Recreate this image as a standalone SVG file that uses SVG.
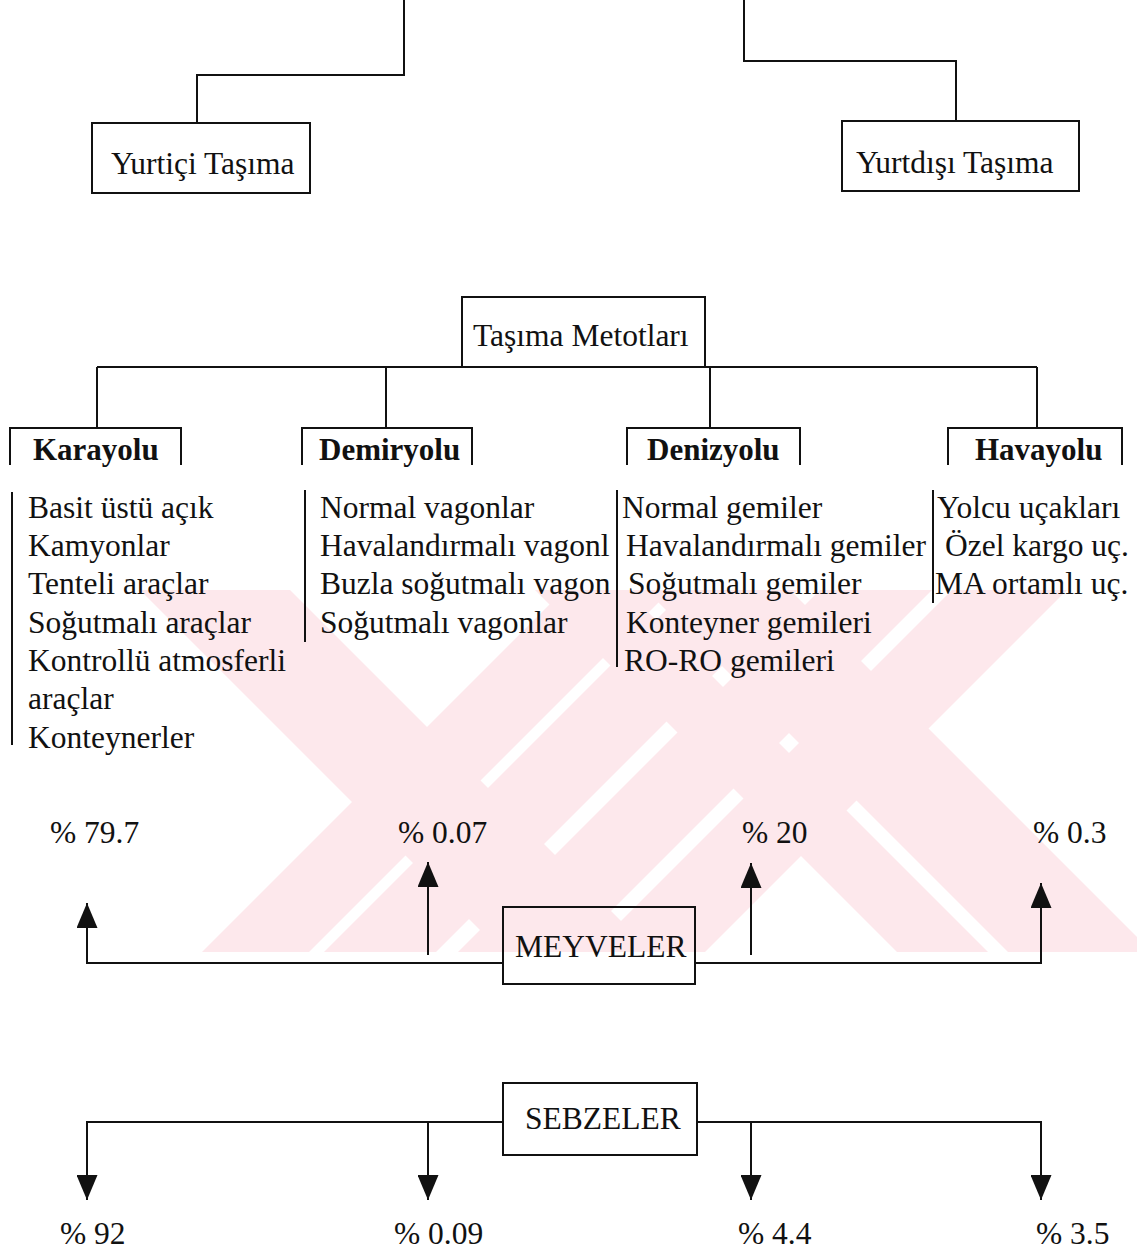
<svg xmlns="http://www.w3.org/2000/svg" width="1137" height="1251" viewBox="0 0 1137 1251">
<style>
  .ln { fill: none; stroke: #111; stroke-width: 2; }
  .bx { fill: none; stroke: #111; stroke-width: 2; }
  .t { font-family: "Liberation Serif", "Times New Roman", serif; font-size: 31.5px; fill: #111; }
  .b { font-family: "Liberation Serif", "Times New Roman", serif; font-size: 31px; font-weight: bold; fill: #111; }
  .wm { fill: #fde8ec; }
</style>
<defs>
  <marker id="arr" markerUnits="userSpaceOnUse" markerWidth="25" markerHeight="21" viewBox="0 0 25 21" refX="25" refY="10.5" orient="auto">
    <path d="M0,0 L25,10.5 L0,21 Z" fill="#111"/>
  </marker>
  <clipPath id="wmclip"><rect x="140" y="590" width="997" height="362"/></clipPath>
</defs>
<rect width="1137" height="1251" fill="#fff"/>
<g id="watermark" clip-path="url(#wmclip)">
  <polygon class="wm" points="140,590 290,590 652,952 502,952"/>
  <polygon class="wm" points="564,590 671,590 309,952 202,952"/>
  <polygon class="wm" points="686,590 798,590 436,952 324,952"/>
  <polygon class="wm" points="820,590 932,590 570,952 458,952"/>
  <polygon class="wm" points="952,590 1067,590 705,952 590,952"/>
  <polygon class="wm" points="535,590 626,590 988,952 897,952"/>
  <polygon class="wm" points="646,590 790,590 1152,952 1008,952"/>
</g>
<g id="connectors">
  <path class="ln" d="M404,0 V75 H197 V123"/>
  <path class="ln" d="M744,0 V61 H956 V121"/>
  <path class="ln" d="M97,367 H1037"/>
  <path class="ln" d="M97,367 V428"/>
  <path class="ln" d="M386,367 V428"/>
  <path class="ln" d="M710,367 V428"/>
  <path class="ln" d="M1037,367 V428"/>
  <path class="ln" d="M503,963 H87 V903" marker-end="url(#arr)"/>
  <path class="ln" d="M428,955 V862" marker-end="url(#arr)"/>
  <path class="ln" d="M751,955 V863" marker-end="url(#arr)"/>
  <path class="ln" d="M695,963 H1041 V883" marker-end="url(#arr)"/>
  <path class="ln" d="M503,1122 H87 V1200" marker-end="url(#arr)"/>
  <path class="ln" d="M428,1122 V1200" marker-end="url(#arr)"/>
  <path class="ln" d="M751,1122 V1200" marker-end="url(#arr)"/>
  <path class="ln" d="M697,1122 H1041 V1200" marker-end="url(#arr)"/>
</g>
<g id="yurtici">
  <rect class="bx" x="92" y="123" width="218" height="70"/>
  <text class="t" x="111" y="174">Yurtiçi Taşıma</text>
</g>
<g id="yurtdisi">
  <rect class="bx" x="842" y="121" width="237" height="70"/>
  <text class="t" x="856" y="173">Yurtdışı Taşıma</text>
</g>
<g id="tasima-metotlari">
  <rect class="bx" x="462" y="297" width="243" height="70"/>
  <text class="t" x="473" y="346">Taşıma Metotları</text>
</g>
<g id="karayolu">
  <path class="bx" d="M10,465 V428 H181 V465"/>
  <text class="b" x="33" y="460">Karayolu</text>
  <path class="ln" d="M12,492 V745"/>
  <text class="t" x="28" y="518">Basit üstü açık</text>
  <text class="t" x="28" y="556">Kamyonlar</text>
  <text class="t" x="28" y="594">Tenteli araçlar</text>
  <text class="t" x="28" y="633">Soğutmalı araçlar</text>
  <text class="t" x="28" y="671">Kontrollü atmosferli</text>
  <text class="t" x="28" y="709">araçlar</text>
  <text class="t" x="28" y="748">Konteynerler</text>
</g>
<g id="demiryolu">
  <path class="bx" d="M302,465 V428 H472 V465"/>
  <text class="b" x="319" y="460">Demiryolu</text>
  <path class="ln" d="M305,490 V642"/>
  <text class="t" x="320" y="518">Normal vagonlar</text>
  <text class="t" x="320" y="556">Havalandırmalı vagonl</text>
  <text class="t" x="320" y="594">Buzla soğutmalı vagon</text>
  <text class="t" x="320" y="633">Soğutmalı vagonlar</text>
</g>
<g id="denizyolu">
  <path class="bx" d="M627,465 V428 H800 V465"/>
  <text class="b" x="647" y="460">Denizyolu</text>
  <path class="ln" d="M617,490 V667"/>
  <text class="t" x="622" y="518">Normal gemiler</text>
  <text class="t" x="626" y="556">Havalandırmalı gemiler</text>
  <text class="t" x="628" y="594">Soğutmalı gemiler</text>
  <text class="t" x="626" y="633">Konteyner gemileri</text>
  <text class="t" x="624" y="671">RO-RO gemileri</text>
</g>
<g id="havayolu">
  <path class="bx" d="M948,465 V428 H1122 V465"/>
  <text class="b" x="975" y="460">Havayolu</text>
  <path class="ln" d="M933,490 V603"/>
  <text class="t" x="937" y="518">Yolcu uçakları</text>
  <text class="t" x="945" y="556">Özel kargo uç.</text>
  <text class="t" x="935" y="594">MA ortamlı uç.</text>
</g>
<g id="meyve-yuzdeler">
  <text class="t" x="50" y="843">% 79.7</text>
  <text class="t" x="398" y="843">% 0.07</text>
  <text class="t" x="742" y="843">% 20</text>
  <text class="t" x="1033" y="843">% 0.3</text>
</g>
<g id="meyveler">
  <rect class="bx" x="503" y="907" width="192" height="77"/>
  <text class="t" x="515" y="957">MEYVELER</text>
</g>
<g id="sebzeler">
  <rect class="bx" x="503" y="1083" width="194" height="72"/>
  <text class="t" x="525" y="1129">SEBZELER</text>
</g>
<g id="sebze-yuzdeler">
  <text class="t" x="60" y="1244">% 92</text>
  <text class="t" x="394" y="1244">% 0.09</text>
  <text class="t" x="738" y="1244">% 4.4</text>
  <text class="t" x="1036" y="1244">% 3.5</text>
</g>
</svg>
